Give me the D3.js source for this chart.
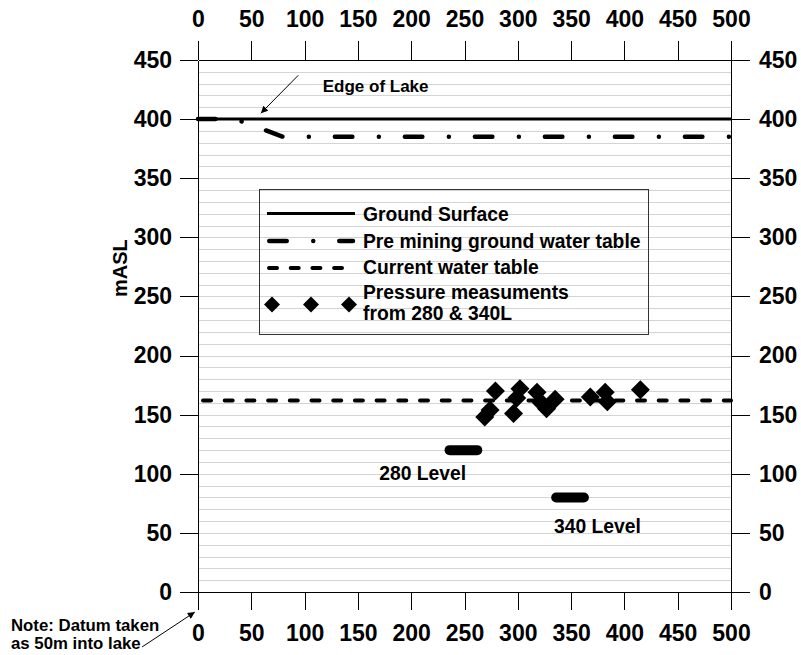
<!DOCTYPE html>
<html><head><meta charset="utf-8">
<script src="https://cdn.jsdelivr.net/npm/d3@7"></script>
<style>
body{margin:0;background:#fff}
svg{display:block}
text{font-family:"Liberation Sans",Arial,Helvetica,sans-serif;font-weight:bold;fill:#000}
</style>
</head><body>
<svg id="chart" width="801" height="655"></svg>
<script>
// ---- data ----
const xTicks = [0,50,100,150,200,250,300,350,400,450,500];
const yTicks = [0,50,100,150,200,250,300,350,400,450];
const groundX = [0,500];
const groundY = [400,400];
const preMiningX = [0,35,80,500];
const preMiningY = [400,400,385,385];
const currentX = [0,500];
const currentY = [162,162];
const pressureX = [269,274,279,296,299,302,318,322,327,335,368,382,384,415];
const pressureY = [148,154,170,151,164,172,169,160,155,163,165,169,161,171];
const levelNames = ["280 Level","340 Level"];
const levelX1 = [236,336];
const levelX2 = [262,362];
const levelY = [120,80];
const legendLabels = [["Ground Surface"],["Pre mining ground water table"],["Current water table"],["Pressure measuments","from 280 & 340L"]];

// ---- layout ----
const svg = d3.select("#chart");
const x = d3.scaleLinear().domain([0,500]).range([198,731]);
const y = d3.scaleLinear().domain([0,450]).range([592,60]);
const minorX = d3.range(0,501,10);
const minorY = d3.range(0,451,10);

// grid
svg.append("g").selectAll("line").data(minorY.filter(v=>v>0&&v<450)).join("line")
  .attr("x1",x(0)).attr("x2",x(500))
  .attr("y1",d=>Math.round(y(d))+0.5).attr("y2",d=>Math.round(y(d))+0.5)
  .attr("stroke","#d4d4d4").attr("stroke-width",1);

// axes
function styleAxis(g){ g.selectAll("line,path").attr("stroke","#000").attr("shape-rendering","crispEdges"); g.selectAll("text").style("font-size","23px").style("font-family",'"Liberation Sans",Arial,sans-serif').style("font-weight","bold"); }
const gl = svg.append("g").attr("transform",`translate(${x(0)},0)`);
gl.call(d3.axisLeft(y).tickValues(minorY).tickSize(9).tickSizeOuter(0).tickFormat(""));
gl.call(d3.axisLeft(y).tickValues(yTicks).tickSize(18).tickSizeOuter(0).tickPadding(8)); styleAxis(gl);
const gr = svg.append("g").attr("transform",`translate(${x(500)},0)`);
gr.call(d3.axisRight(y).tickValues(minorY).tickSize(9).tickSizeOuter(0).tickFormat(""));
gr.call(d3.axisRight(y).tickValues(yTicks).tickSize(19).tickSizeOuter(0).tickPadding(9)); styleAxis(gr);
const gt = svg.append("g").attr("transform",`translate(0,${y(450)})`);
gt.call(d3.axisTop(x).tickValues(minorX).tickSize(10).tickSizeOuter(0).tickFormat(""));
gt.call(d3.axisTop(x).tickValues(xTicks).tickSize(19).tickSizeOuter(0).tickPadding(14)); styleAxis(gt);
const gb = svg.append("g").attr("transform",`translate(0,${y(0)})`);
gb.call(d3.axisBottom(x).tickValues(minorX).tickSize(9).tickSizeOuter(0).tickFormat(""));
gb.call(d3.axisBottom(x).tickValues(xTicks).tickSize(18).tickSizeOuter(0).tickPadding(15)); styleAxis(gb);

// y title
svg.append("text").attr("transform",`translate(127,${y(274)}) rotate(-90)`)
  .attr("text-anchor","middle").style("font-size","20px").text("mASL");

const line = d3.line().x(d=>x(d[0])).y(d=>y(d[1]));

// current water table
svg.append("path").datum(d3.zip(currentX,currentY)).attr("d",line)
  .attr("fill","none").attr("stroke","#000").attr("stroke-width",4)
  .attr("stroke-linecap","round").attr("stroke-dasharray","8,13.7").attr("stroke-dashoffset",-5);

// pre mining
svg.append("path").datum(d3.zip(preMiningX,preMiningY)).attr("d",line)
  .attr("fill","none").attr("stroke","#000").attr("stroke-width",4.5)
  .attr("stroke-linecap","round").attr("stroke-linejoin","round").attr("stroke-dasharray","17.5,26.5,0.01,26");

// ground surface
svg.append("path").datum(d3.zip(groundX,groundY)).attr("d",line)
  .attr("fill","none").attr("stroke","#000").attr("stroke-width",3);

// levels
svg.append("g").selectAll("line").data(levelNames).join("line")
  .attr("x1",(d,i)=>x(levelX1[i])).attr("x2",(d,i)=>x(levelX2[i]))
  .attr("y1",(d,i)=>y(levelY[i])).attr("y2",(d,i)=>y(levelY[i]))
  .attr("stroke","#000").attr("stroke-width",10).attr("stroke-linecap","round");
const levelLabelX = [170,334];
const levelLabelY = [95,50];
svg.append("g").selectAll("text").data(levelNames).join("text")
  .attr("x",(d,i)=>x(levelLabelX[i])).attr("y",(d,i)=>y(levelLabelY[i]))
  .style("font-size","19.3px").text(d=>d);

// diamonds
const diamond = r => `M0,${-r}L${r},0L0,${r}L${-r},0Z`;
svg.append("g").selectAll("path").data(d3.zip(pressureX,pressureY)).join("path")
  .attr("transform",d=>`translate(${x(d[0])},${y(d[1])})`).attr("d",diamond(9.5)).attr("fill","#000");

// legend
const lg = svg.append("g");
lg.append("rect").attr("x",259.5).attr("y",189.5).attr("width",389).attr("height",145)
  .attr("fill","none").attr("stroke","#333").attr("stroke-width",1);
const rowY = [213.5,241,268];
lg.append("line").attr("x1",267).attr("x2",355).attr("y1",rowY[0]).attr("y2",rowY[0]).attr("stroke","#000").attr("stroke-width",3);
lg.append("line").attr("x1",269.25).attr("x2",353).attr("y1",rowY[1]).attr("y2",rowY[1]).attr("stroke","#000").attr("stroke-width",4.5)
  .attr("stroke-linecap","round").attr("stroke-dasharray","17.5,26.5,0.01,26");
lg.append("line").attr("x1",269).attr("x2",342).attr("y1",rowY[2]).attr("y2",rowY[2]).attr("stroke","#000").attr("stroke-width",4)
  .attr("stroke-linecap","round").attr("stroke-dasharray","8,13.7");
[272,311,349].forEach(cx=>lg.append("path").attr("transform",`translate(${cx},304.5)`).attr("d",diamond(8)).attr("fill","#000"));
const baseY = [220.7,247.5,274.3,299.3];
legendLabels.forEach((lines,i)=>{
  const t = lg.append("text").attr("x",363).attr("y",baseY[i]).style("font-size","19.3px");
  lines.forEach((s,j)=>t.append("tspan").attr("x",363).attr("dy",j?20.2:0).text(s));
});

// annotations
const defs = svg.append("defs");
defs.append("marker").attr("id","ah").attr("viewBox","0 0 10 10").attr("refX",10).attr("refY",5)
  .attr("markerWidth",9).attr("markerHeight",7).attr("markerUnits","userSpaceOnUse").attr("orient","auto")
  .append("path").attr("d","M0,0L10,5L0,10Z").attr("fill","#000");
svg.append("line").attr("x1",x(94)).attr("y1",y(437)).attr("x2",x(59)).attr("y2",y(405))
  .attr("stroke","#000").attr("stroke-width",1).attr("marker-end","url(#ah)");
svg.append("text").attr("x",x(117)).attr("y",y(423)).style("font-size","17px").text("Edge of Lake");

svg.append("line").attr("x1",x(-52.5)).attr("y1",y(-46.5)).attr("x2",x(-3)).attr("y2",y(-17))
  .attr("stroke","#000").attr("stroke-width",1).attr("marker-end","url(#ah)");
const note = svg.append("text").attr("x",11).attr("y",631).style("font-size","16.8px");
note.append("tspan").attr("x",11).text("Note: Datum taken");
note.append("tspan").attr("x",11).attr("dy",18).text("as 50m into lake");
</script>
</body></html>
